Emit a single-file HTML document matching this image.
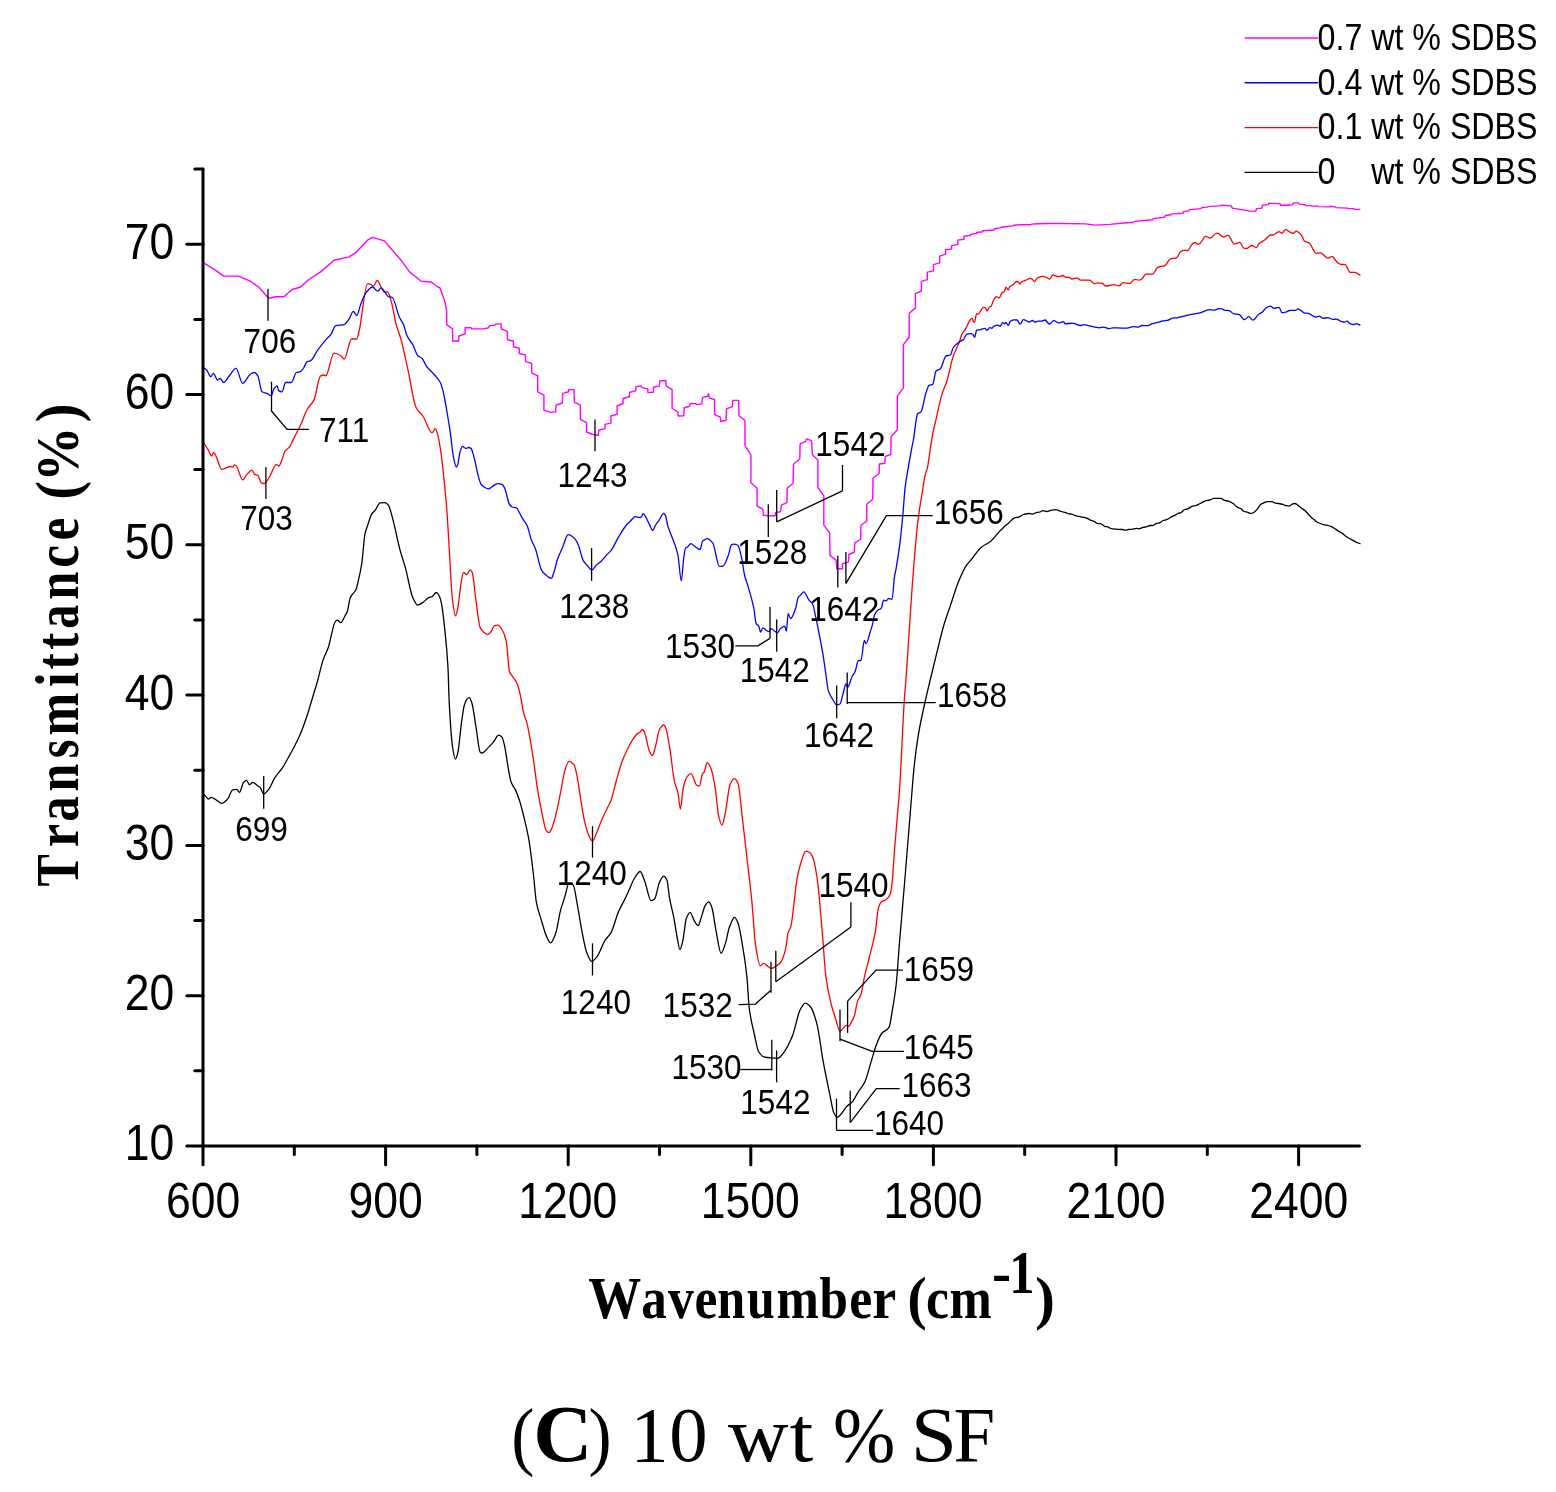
<!DOCTYPE html>
<html><head><meta charset="utf-8"><title>FTIR spectra (C) 10 wt % SF</title>
<style>html,body{margin:0;padding:0;background:#fff;}svg{display:block;}</style></head>
<body><svg width="1556" height="1492" viewBox="0 0 1556 1492">
<rect width="1556" height="1492" fill="#fff"/>
<path d="M203.40,794.00 C204.23,794.87 205.07,795.75 205.90,796.60 C206.73,797.45 207.57,799.10 208.40,799.10 C209.23,799.10 210.07,797.40 210.90,797.40 C211.73,797.40 212.57,797.85 213.40,798.20 C214.53,798.68 215.67,799.70 216.80,800.40 C218.47,801.42 220.13,803.30 221.80,803.30 C223.73,803.30 225.67,801.12 227.60,799.10 C229.30,797.33 231.00,790.27 232.70,789.90 C234.10,789.60 235.50,789.40 236.90,789.40 C237.73,789.40 238.57,792.40 239.40,792.40 C240.80,792.40 242.20,783.72 243.60,782.30 C244.60,781.29 245.60,780.30 246.60,780.30 C247.53,780.30 248.47,784.80 249.40,784.80 C250.53,784.80 251.67,782.30 252.80,782.30 C254.20,782.30 255.60,784.29 257.00,785.30 C258.10,786.09 259.20,786.55 260.30,787.70 C261.43,788.88 262.57,794.00 263.70,794.00 C265.63,794.00 267.57,790.79 269.50,788.20 C271.20,785.92 272.90,780.83 274.60,778.10 C277.37,773.66 280.13,771.46 282.90,767.20 C284.30,765.05 285.70,762.20 287.10,759.70 C288.50,757.20 289.90,754.83 291.30,752.20 C294.37,746.44 297.43,740.88 300.50,733.70 C302.73,728.47 304.97,722.02 307.20,715.30 C308.90,710.19 310.60,704.14 312.30,698.50 C313.97,692.97 315.63,687.69 317.30,681.80 C319.27,674.85 321.23,665.27 323.20,659.60 C324.87,654.80 326.53,652.47 328.20,647.80 C330.70,640.79 333.20,622.79 335.70,621.00 C336.27,620.59 336.83,620.20 337.40,620.20 C338.53,620.20 339.67,622.70 340.80,622.70 C342.17,622.70 343.53,618.43 344.90,616.00 C345.77,614.46 346.63,613.42 347.50,611.00 C348.33,608.67 349.17,600.50 350.00,598.40 C350.83,596.30 351.67,595.41 352.50,594.20 C353.60,592.60 354.70,592.13 355.80,590.00 C356.63,588.39 357.47,584.29 358.30,580.80 C359.43,576.05 360.57,571.28 361.70,564.00 C362.80,556.94 363.90,539.05 365.00,533.90 C365.87,529.84 366.73,528.11 367.60,525.50 C369.00,521.29 370.40,515.87 371.80,513.80 C372.90,512.18 374.00,511.73 375.10,510.40 C376.77,508.39 378.43,503.09 380.10,502.90 C381.80,502.71 383.50,502.60 385.20,502.60 C386.30,502.60 387.40,503.96 388.50,505.40 C389.90,507.23 391.30,513.77 392.70,518.80 C395.20,527.78 397.70,541.40 400.20,550.60 C401.90,556.85 403.60,561.28 405.30,567.40 C407.80,576.40 410.30,592.30 412.80,597.60 C414.47,601.14 416.13,605.10 417.80,605.10 C419.77,605.10 421.73,603.13 423.70,601.80 C425.37,600.67 427.03,598.25 428.70,597.60 C429.83,597.16 430.97,597.16 432.10,596.70 C433.50,596.13 434.90,592.50 436.30,592.50 C437.13,592.50 437.97,593.75 438.80,595.00 C439.63,596.25 440.47,599.05 441.30,602.60 C442.40,607.29 443.50,617.53 444.60,627.70 C445.73,638.18 446.87,647.66 448.00,667.90 C448.40,675.04 448.80,694.22 449.20,701.90 C450.33,723.66 451.47,739.83 452.60,747.10 C453.53,753.09 454.47,759.20 455.40,759.20 C456.13,759.20 456.87,756.41 457.60,753.80 C459.00,748.82 460.40,729.81 461.80,720.30 C462.63,714.64 463.47,707.99 464.30,705.20 C465.13,702.41 465.97,700.28 466.80,699.40 C467.63,698.52 468.47,697.70 469.30,697.70 C470.13,697.70 470.97,700.32 471.80,702.70 C473.20,706.70 474.60,718.75 476.00,727.00 C477.40,735.25 478.80,751.11 480.20,752.20 C480.77,752.64 481.33,753.00 481.90,753.00 C484.13,753.00 486.37,749.26 488.60,747.10 C490.27,745.49 491.93,743.77 493.60,741.80 C495.27,739.83 496.93,735.10 498.60,735.10 C499.73,735.10 500.87,735.92 502.00,737.10 C502.83,737.97 503.67,742.00 504.50,745.50 C505.90,751.38 507.30,763.33 508.70,770.60 C509.53,774.93 510.37,780.04 511.20,782.30 C512.60,786.10 514.00,786.91 515.40,789.90 C516.80,792.89 518.20,796.49 519.60,800.80 C521.00,805.11 522.40,810.95 523.80,816.70 C525.47,823.55 527.13,829.83 528.80,839.30 C530.37,848.20 531.93,861.60 533.50,875.00 C534.43,882.98 535.37,896.68 536.30,901.80 C538.00,911.12 539.70,914.45 541.40,920.20 C543.07,925.83 544.73,932.59 546.40,936.10 C547.80,939.05 549.20,942.80 550.60,942.80 C552.27,942.80 553.93,938.00 555.60,933.60 C557.27,929.20 558.93,916.49 560.60,910.20 C562.00,904.92 563.40,901.27 564.80,896.80 C566.20,892.33 567.60,883.40 569.00,883.40 C570.40,883.40 571.80,884.01 573.20,885.00 C574.60,885.99 576.00,897.83 577.40,905.10 C579.07,913.75 580.73,925.35 582.40,933.60 C583.80,940.53 585.20,948.42 586.60,952.10 C588.27,956.48 589.93,961.30 591.60,961.30 C593.30,961.30 595.00,959.03 596.70,957.10 C599.47,953.97 602.23,944.57 605.00,940.30 C606.97,937.27 608.93,936.17 610.90,932.80 C613.43,928.46 615.97,917.68 618.50,911.80 C621.00,906.00 623.50,902.13 626.00,896.80 C626.83,895.02 627.67,893.02 628.50,891.20 C630.73,886.32 632.97,880.19 635.20,877.00 C636.87,874.62 638.53,871.50 640.20,871.50 C641.73,871.50 643.27,877.64 644.80,881.50 C646.90,886.78 649.00,900.70 651.10,900.70 C652.23,900.70 653.37,899.94 654.50,899.00 C656.17,897.62 657.83,885.67 659.50,882.30 C660.90,879.47 662.30,876.10 663.70,876.10 C664.80,876.10 665.90,877.87 667.00,880.30 C667.87,882.22 668.73,893.58 669.60,898.40 C670.97,906.00 672.33,909.88 673.70,916.90 C674.83,922.72 675.97,931.26 677.10,937.00 C678.03,941.73 678.97,949.50 679.90,949.50 C680.90,949.50 681.90,944.42 682.90,940.30 C684.03,935.63 685.17,921.48 686.30,918.50 C687.57,915.17 688.83,912.30 690.10,912.30 C691.47,912.30 692.83,918.43 694.20,920.60 C695.50,922.66 696.80,925.70 698.10,925.70 C699.33,925.70 700.57,919.15 701.80,915.60 C702.90,912.44 704.00,907.27 705.10,905.60 C706.33,903.73 707.57,901.90 708.80,901.90 C709.80,901.90 710.80,904.59 711.80,907.20 C713.20,910.85 714.60,923.75 716.00,930.70 C717.70,939.14 719.40,953.30 721.10,953.30 C722.47,953.30 723.83,948.02 725.20,944.10 C726.60,940.08 728.00,931.03 729.40,927.30 C731.10,922.78 732.80,917.30 734.50,917.30 C735.60,917.30 736.70,919.82 737.80,922.30 C739.20,925.46 740.60,934.47 742.00,942.40 C743.67,951.84 745.33,961.25 747.00,977.60 C747.70,984.47 748.40,1001.32 749.10,1007.00 C750.87,1021.32 752.63,1026.50 754.40,1034.50 C755.80,1040.84 757.20,1049.20 758.60,1051.50 C760.37,1054.40 762.13,1056.32 763.90,1056.80 C766.37,1057.47 768.83,1057.69 771.30,1057.90 C773.43,1058.09 775.57,1058.30 777.70,1058.30 C779.47,1058.30 781.23,1055.66 783.00,1053.60 C786.20,1049.88 789.40,1043.47 792.60,1035.60 C795.07,1029.53 797.53,1014.70 800.00,1010.10 C801.77,1006.81 803.53,1003.10 805.30,1003.10 C807.07,1003.10 808.83,1004.99 810.60,1007.00 C812.70,1009.39 814.80,1016.13 816.90,1023.90 C819.03,1031.79 821.17,1050.53 823.30,1062.10 C825.43,1073.67 827.57,1083.80 829.70,1093.90 C831.10,1100.53 832.50,1110.17 833.90,1113.00 C834.97,1115.16 836.03,1117.30 837.10,1117.30 C838.17,1117.30 839.23,1116.04 840.30,1115.10 C842.40,1113.25 844.50,1108.68 846.60,1106.60 C848.37,1104.85 850.13,1104.27 851.90,1102.40 C854.03,1100.14 856.17,1095.14 858.30,1091.80 C860.43,1088.46 862.57,1086.63 864.70,1082.30 C866.80,1078.03 868.90,1068.83 871.00,1062.10 C872.77,1056.43 874.53,1049.70 876.30,1045.10 C878.07,1040.50 879.83,1035.73 881.60,1033.50 C884.10,1030.35 886.60,1031.16 889.10,1027.10 C890.13,1025.42 891.17,1017.18 892.20,1011.20 C893.53,1003.48 894.87,996.14 896.20,984.30 C897.30,974.53 898.40,955.84 899.50,942.40 C901.17,922.03 902.83,903.80 904.50,883.80 C906.77,856.60 909.03,827.56 911.30,800.00 C912.10,790.27 912.90,778.92 913.70,771.10 C915.10,757.41 916.50,746.37 917.90,737.60 C920.13,723.60 922.37,714.30 924.60,704.00 C926.47,695.39 928.33,687.83 930.20,680.00 C932.13,671.89 934.07,664.01 936.00,656.20 C938.53,645.96 941.07,634.64 943.60,626.00 C945.83,618.39 948.07,612.52 950.30,605.90 C953.07,597.70 955.83,588.34 958.60,581.60 C961.13,575.43 963.67,569.45 966.20,565.70 C967.60,563.63 969.00,562.39 970.40,560.70 C974.03,556.32 977.67,550.34 981.30,547.30 C984.37,544.74 987.43,543.89 990.50,541.40 C993.67,538.83 996.83,534.20 1000.00,530.90 C1001.17,529.68 1002.33,528.48 1003.50,527.40 C1005.23,525.80 1006.97,524.48 1008.70,523.00 C1010.80,521.21 1012.90,518.10 1015.00,517.60 C1016.37,517.27 1017.73,517.32 1019.10,517.00 C1020.43,516.69 1021.77,515.09 1023.10,514.70 C1025.23,514.07 1027.37,513.50 1029.50,513.50 C1030.47,513.50 1031.43,514.10 1032.40,514.10 C1033.93,514.10 1035.47,512.60 1037.00,512.40 C1037.77,512.30 1038.53,512.31 1039.30,512.20 C1040.47,512.04 1041.63,510.70 1042.80,510.70 C1044.17,510.70 1045.53,511.50 1046.90,511.50 C1048.23,511.50 1049.57,510.66 1050.90,510.40 C1052.43,510.10 1053.97,509.70 1055.50,509.70 C1056.27,509.70 1057.03,509.92 1057.80,510.10 C1058.97,510.38 1060.13,511.15 1061.30,511.50 C1062.83,511.96 1064.37,512.11 1065.90,512.60 C1066.87,512.91 1067.83,513.78 1068.80,513.90 C1069.77,514.02 1070.73,513.99 1071.70,514.10 C1072.67,514.21 1073.63,515.00 1074.60,515.30 C1076.73,515.96 1078.87,516.29 1081.00,516.80 C1082.93,517.26 1084.87,517.56 1086.80,518.20 C1088.33,518.71 1089.87,519.99 1091.40,520.50 C1092.17,520.75 1092.93,520.82 1093.70,521.10 C1094.87,521.52 1096.03,523.22 1097.20,523.40 C1098.33,523.58 1099.47,523.53 1100.60,523.70 C1101.97,523.91 1103.33,525.94 1104.70,526.30 C1105.87,526.61 1107.03,526.57 1108.20,526.90 C1108.97,527.12 1109.73,528.19 1110.50,528.40 C1112.23,528.87 1113.97,529.08 1115.70,529.20 C1118.00,529.36 1120.30,529.32 1122.60,529.50 C1123.57,529.58 1124.53,530.10 1125.50,530.10 C1126.47,530.10 1127.43,529.59 1128.40,529.50 C1129.57,529.39 1130.73,529.40 1131.90,529.30 C1133.43,529.17 1134.97,528.40 1136.50,528.40 C1137.27,528.40 1138.03,528.80 1138.80,528.80 C1140.17,528.80 1141.53,527.74 1142.90,527.40 C1144.23,527.06 1145.57,526.93 1146.90,526.60 C1148.07,526.31 1149.23,525.50 1150.40,525.50 C1151.17,525.50 1151.93,525.50 1152.70,525.50 C1153.87,525.50 1155.03,523.98 1156.20,523.60 C1157.33,523.23 1158.47,523.19 1159.60,522.80 C1160.77,522.40 1161.93,520.93 1163.10,520.50 C1164.27,520.07 1165.43,520.00 1166.60,519.60 C1168.53,518.94 1170.47,517.34 1172.40,516.40 C1173.53,515.85 1174.67,515.46 1175.80,514.90 C1177.03,514.29 1178.27,512.80 1179.50,512.80 C1179.67,512.80 1179.83,513.10 1180.00,513.10 C1181.60,513.10 1183.20,510.00 1184.80,509.50 C1185.77,509.20 1186.73,509.19 1187.70,508.90 C1189.10,508.48 1190.50,506.85 1191.90,506.40 C1193.10,506.02 1194.30,505.95 1195.50,505.60 C1197.07,505.14 1198.63,504.24 1200.20,503.50 C1202.00,502.65 1203.80,501.30 1205.60,500.80 C1206.97,500.42 1208.33,500.35 1209.70,500.00 C1211.10,499.64 1212.50,498.40 1213.90,498.40 C1216.27,498.40 1218.63,498.40 1221.00,498.40 C1222.00,498.40 1223.00,499.85 1224.00,500.20 C1225.40,500.69 1226.80,500.76 1228.20,501.20 C1229.97,501.76 1231.73,502.65 1233.50,503.80 C1234.70,504.58 1235.90,506.43 1237.10,507.10 C1238.27,507.75 1239.43,507.87 1240.60,508.50 C1241.80,509.15 1243.00,511.08 1244.20,511.50 C1245.40,511.92 1246.60,511.95 1247.80,512.30 C1248.77,512.58 1249.73,513.50 1250.70,513.50 C1251.90,513.50 1253.10,512.78 1254.30,512.10 C1255.30,511.53 1256.30,510.24 1257.30,509.10 C1258.47,507.77 1259.63,505.23 1260.80,504.40 C1261.60,503.83 1262.40,503.55 1263.20,503.20 C1264.60,502.59 1266.00,501.60 1267.40,501.60 C1268.97,501.60 1270.53,501.60 1272.10,501.60 C1272.90,501.60 1273.70,502.71 1274.50,502.90 C1275.90,503.23 1277.30,503.26 1278.70,503.50 C1280.07,503.74 1281.43,504.01 1282.80,504.40 C1283.80,504.69 1284.80,505.33 1285.80,505.60 C1286.80,505.87 1287.80,506.20 1288.80,506.20 C1290.00,506.20 1291.20,504.52 1292.40,504.10 C1293.17,503.83 1293.93,503.50 1294.70,503.50 C1295.90,503.50 1297.10,504.80 1298.30,505.60 C1299.30,506.27 1300.30,507.13 1301.30,507.90 C1302.67,508.96 1304.03,509.88 1305.40,511.10 C1306.40,512.00 1307.40,513.13 1308.40,514.20 C1309.40,515.27 1310.40,516.58 1311.40,517.50 C1312.37,518.39 1313.33,519.03 1314.30,519.80 C1315.30,520.60 1316.30,521.66 1317.30,522.20 C1319.10,523.17 1320.90,523.74 1322.70,524.30 C1325.47,525.16 1328.23,525.37 1331.00,526.40 C1332.20,526.85 1333.40,527.74 1334.60,528.50 C1335.77,529.24 1336.93,530.18 1338.10,530.90 C1339.30,531.64 1340.50,532.11 1341.70,532.90 C1343.27,533.93 1344.83,535.77 1346.40,536.80 C1348.00,537.85 1349.60,538.52 1351.20,539.40 C1352.80,540.28 1354.40,541.38 1356.00,542.10 C1357.50,542.78 1359.00,543.23 1360.50,543.80" fill="none" stroke="#000" stroke-width="1.3" stroke-linejoin="round"/>
<path d="M203.40,442.60 C205.07,445.10 206.73,447.36 208.40,450.10 C209.50,451.91 210.60,456.00 211.70,456.00 C212.27,456.00 212.83,452.60 213.40,452.60 C213.97,452.60 214.53,453.57 215.10,454.30 C217.33,457.17 219.57,469.40 221.80,469.40 C223.47,469.40 225.13,468.28 226.80,467.70 C227.93,467.31 229.07,466.50 230.20,466.50 C231.03,466.50 231.87,467.20 232.70,467.20 C233.27,467.20 233.83,464.90 234.40,464.90 C234.93,464.90 235.47,465.20 236.00,465.50 C238.23,466.75 240.47,479.90 242.70,479.90 C244.10,479.90 245.50,475.84 246.90,474.40 C248.57,472.68 250.23,470.20 251.90,470.20 C252.77,470.20 253.63,474.02 254.50,474.40 C255.60,474.88 256.70,474.72 257.80,475.20 C258.93,475.69 260.07,482.31 261.20,482.80 C262.30,483.28 263.40,483.60 264.50,483.60 C265.07,483.60 265.63,482.57 266.20,481.90 C267.60,480.23 269.00,477.61 270.40,475.20 C272.33,471.88 274.27,464.30 276.20,464.30 C277.07,464.30 277.93,466.00 278.80,466.00 C279.90,466.00 281.00,461.99 282.10,459.30 C282.93,457.26 283.77,453.12 284.60,451.80 C286.27,449.15 287.93,449.04 289.60,446.80 C291.00,444.92 292.40,441.18 293.80,438.40 C294.93,436.15 296.07,433.92 297.20,431.70 C298.30,429.55 299.40,427.63 300.50,425.30 C302.73,420.58 304.97,413.19 307.20,409.30 C309.43,405.41 311.67,404.55 313.90,400.10 C316.13,395.65 318.37,376.70 320.60,375.80 C321.73,375.34 322.87,375.00 324.00,375.00 C324.57,375.00 325.13,375.80 325.70,375.80 C328.47,375.80 331.23,353.20 334.00,353.20 C336.27,353.20 338.53,354.40 340.80,355.70 C341.90,356.33 343.00,359.10 344.10,359.10 C346.60,359.10 349.10,339.00 351.60,339.00 C353.30,339.00 355.00,339.00 356.70,339.00 C357.53,339.00 358.37,333.95 359.20,330.60 C362.00,319.36 364.80,283.70 367.60,283.70 C368.70,283.70 369.80,284.10 370.90,284.50 C371.73,284.80 372.57,286.20 373.40,286.20 C374.70,286.20 376.00,280.30 377.30,280.30 C378.53,280.30 379.77,284.97 381.00,287.00 C382.10,288.81 383.20,292.00 384.30,292.00 C385.43,292.00 386.57,292.00 387.70,292.00 C388.80,292.00 389.90,296.84 391.00,300.40 C392.67,305.79 394.33,317.65 396.00,323.90 C397.70,330.28 399.40,333.66 401.10,339.80 C403.33,347.87 405.57,359.10 407.80,369.10 C410.60,381.64 413.40,402.35 416.20,407.70 C418.43,411.97 420.67,412.74 422.90,416.00 C425.97,420.48 429.03,432.80 432.10,432.80 C433.20,432.80 434.30,428.60 435.40,428.60 C436.23,428.60 437.07,432.30 437.90,435.30 C439.03,439.38 440.17,447.02 441.30,455.10 C442.40,462.94 443.50,474.08 444.60,485.30 C445.43,493.80 446.27,502.49 447.10,513.80 C447.73,522.39 448.37,534.86 449.00,545.00 C450.20,564.21 451.40,591.53 452.60,600.90 C453.53,608.19 454.47,615.90 455.40,615.90 C456.13,615.90 456.87,612.30 457.60,609.20 C458.70,604.55 459.80,590.26 460.90,584.10 C461.77,579.25 462.63,572.40 463.50,572.40 C464.50,572.40 465.50,574.60 466.50,574.60 C467.73,574.60 468.97,569.90 470.20,569.90 C470.87,569.90 471.53,571.07 472.20,572.40 C473.47,574.93 474.73,592.15 476.00,600.90 C477.40,610.57 478.80,625.36 480.20,627.70 C482.73,631.93 485.27,634.40 487.80,634.40 C488.63,634.40 489.47,633.48 490.30,632.70 C491.70,631.39 493.10,626.08 494.50,625.70 C495.60,625.40 496.70,625.20 497.80,625.20 C499.47,625.20 501.13,628.14 502.80,631.00 C503.93,632.95 505.07,635.99 506.20,641.10 C507.30,646.06 508.40,668.76 509.50,671.70 C510.37,674.02 511.23,674.54 512.10,675.90 C513.77,678.52 515.43,679.87 517.10,683.50 C517.93,685.31 518.77,688.49 519.60,691.80 C521.00,697.37 522.40,708.26 523.80,713.60 C524.90,717.79 526.00,719.44 527.10,723.70 C527.67,725.90 528.23,729.07 528.80,732.10 C530.47,741.00 532.13,751.07 533.80,762.20 C534.93,769.77 536.07,780.18 537.20,787.30 C538.87,797.78 540.53,806.61 542.20,814.20 C543.60,820.57 545.00,829.37 546.40,830.90 C547.23,831.81 548.07,832.60 548.90,832.60 C549.73,832.60 550.57,830.74 551.40,829.20 C552.80,826.62 554.20,821.08 555.60,815.80 C557.27,809.51 558.93,800.62 560.60,792.40 C562.00,785.50 563.40,774.91 564.80,770.60 C566.20,766.29 567.60,761.40 569.00,761.40 C570.67,761.40 572.33,762.70 574.00,764.70 C574.87,765.74 575.73,770.06 576.60,773.90 C577.70,778.77 578.80,787.35 579.90,794.00 C581.30,802.47 582.70,812.91 584.10,819.20 C585.50,825.49 586.90,831.21 588.30,834.30 C589.70,837.39 591.10,841.00 592.50,841.00 C593.90,841.00 595.30,835.71 596.70,832.60 C598.37,828.90 600.03,823.85 601.70,820.00 C603.67,815.46 605.63,811.57 607.60,807.50 C608.70,805.22 609.80,803.63 610.90,800.80 C612.57,796.52 614.23,788.22 615.90,782.30 C617.87,775.32 619.83,767.56 621.80,762.20 C623.77,756.84 625.73,752.79 627.70,748.80 C629.37,745.42 631.03,742.07 632.70,739.60 C634.37,737.13 636.03,734.57 637.70,733.40 C638.53,732.82 639.37,732.71 640.20,732.10 C640.93,731.57 641.67,729.50 642.40,729.50 C643.07,729.50 643.73,730.90 644.40,732.10 C646.10,735.17 647.80,747.96 649.50,751.30 C650.50,753.26 651.50,755.50 652.50,755.50 C653.43,755.50 654.37,750.33 655.30,747.10 C656.70,742.26 658.10,731.89 659.50,729.50 C660.90,727.11 662.30,725.00 663.70,725.00 C664.27,725.00 664.83,726.01 665.40,727.00 C666.80,729.44 668.20,739.17 669.60,747.10 C671.27,756.54 672.93,775.38 674.60,782.30 C675.70,786.87 676.80,787.70 677.90,792.40 C678.73,795.96 679.57,809.10 680.40,809.10 C681.33,809.10 682.27,791.91 683.20,788.00 C684.63,782.00 686.07,777.73 687.50,776.10 C688.63,774.81 689.77,773.60 690.90,773.60 C692.87,773.60 694.83,784.20 696.80,785.30 C697.63,785.76 698.47,786.20 699.30,786.20 C700.40,786.20 701.50,775.24 702.60,773.60 C703.17,772.75 703.73,772.73 704.30,771.90 C705.23,770.53 706.17,762.70 707.10,762.70 C708.40,762.70 709.70,765.66 711.00,768.60 C712.40,771.76 713.80,779.46 715.20,787.80 C716.30,794.35 717.40,810.32 718.50,815.10 C719.63,820.03 720.77,825.10 721.90,825.10 C723.00,825.10 724.10,818.17 725.20,813.40 C726.90,806.03 728.60,786.89 730.30,783.60 C731.70,780.89 733.10,778.60 734.50,778.60 C735.60,778.60 736.70,780.51 737.80,782.80 C739.47,786.28 741.13,808.02 742.80,821.80 C744.20,833.37 745.60,846.25 747.00,858.60 C748.70,873.59 750.40,886.24 752.10,903.90 C753.20,915.33 754.30,936.80 755.40,944.10 C757.07,955.16 758.73,965.90 760.40,965.90 C761.53,965.90 762.67,963.40 763.80,963.40 C764.90,963.40 766.00,965.16 767.10,965.90 C768.50,966.84 769.90,968.40 771.30,968.40 C772.97,968.40 774.63,966.94 776.30,965.90 C777.70,965.03 779.10,964.20 780.50,962.50 C782.20,960.43 783.90,955.85 785.60,949.10 C786.43,945.79 787.27,935.00 788.10,932.40 C788.93,929.80 789.77,929.76 790.60,927.30 C792.83,920.71 795.07,888.48 797.30,877.10 C798.40,871.50 799.50,867.14 800.60,863.70 C802.30,858.39 804.00,851.10 805.70,851.10 C807.10,851.10 808.50,851.86 809.90,852.80 C811.00,853.54 812.10,855.77 813.20,858.60 C814.60,862.21 816.00,870.71 817.40,880.40 C819.07,891.94 820.73,914.81 822.40,934.00 C823.53,947.05 824.67,967.22 825.80,975.90 C827.47,988.67 829.13,995.82 830.80,1002.70 C832.47,1009.58 834.13,1014.44 835.80,1019.50 C837.20,1023.75 838.60,1031.20 840.00,1031.20 C841.13,1031.20 842.27,1029.02 843.40,1027.90 C844.23,1027.08 845.07,1025.40 845.90,1025.40 C847.00,1025.40 848.10,1026.20 849.20,1026.20 C849.77,1026.20 850.33,1024.01 850.90,1022.90 C852.03,1020.69 853.17,1019.33 854.30,1016.20 C855.40,1013.16 856.50,1004.14 857.60,1001.10 C858.73,997.97 859.87,997.63 861.00,994.40 C862.10,991.27 863.20,982.58 864.30,977.60 C865.97,970.05 867.63,964.38 869.30,957.50 C871.27,949.38 873.23,943.30 875.20,932.40 C876.33,926.12 877.47,910.41 878.60,907.20 C879.70,904.08 880.80,902.14 881.90,901.40 C883.30,900.46 884.70,900.58 886.10,899.70 C887.50,898.82 888.90,897.28 890.30,893.80 C890.87,892.39 891.43,888.32 892.00,883.80 C892.83,877.15 893.67,860.89 894.50,850.30 C895.33,839.71 896.17,830.15 897.00,820.10 C897.83,810.05 898.67,801.89 899.50,790.00 C901.17,766.23 902.83,721.12 904.50,697.30 C904.97,690.63 905.43,686.21 905.90,680.00 C907.00,665.35 908.10,647.39 909.20,631.10 C910.33,614.32 911.47,595.27 912.60,580.80 C914.53,556.11 916.47,532.40 918.40,517.10 C919.53,508.13 920.67,502.38 921.80,495.30 C922.90,488.43 924.00,479.86 925.10,475.20 C925.93,471.67 926.77,470.60 927.60,466.90 C928.47,463.05 929.33,454.75 930.20,449.30 C931.30,442.38 932.40,435.31 933.50,430.00 C934.33,425.98 935.17,423.11 936.00,419.60 C937.97,411.33 939.93,400.84 941.90,394.40 C943.57,388.95 945.23,386.30 946.90,381.00 C948.87,374.74 950.83,363.60 952.80,357.60 C955.20,350.28 957.60,347.16 960.00,340.00 C960.43,338.71 960.87,336.48 961.30,335.50 C962.63,332.48 963.97,331.52 965.30,329.40 C967.47,325.95 969.63,318.50 971.80,318.50 C972.67,318.50 973.53,322.40 974.40,322.40 C975.13,322.40 975.87,313.70 976.60,313.70 C977.03,313.70 977.47,314.10 977.90,314.10 C979.80,314.10 981.70,307.40 983.60,307.40 C984.30,307.40 985.00,307.62 985.70,308.00 C986.13,308.23 986.57,310.90 987.00,310.90 C987.90,310.90 988.80,306.60 989.70,306.60 C990.13,306.60 990.57,306.60 991.00,306.60 C991.70,306.60 992.40,302.41 993.10,301.10 C994.13,299.16 995.17,296.70 996.20,296.70 C997.20,296.70 998.20,297.80 999.20,297.80 C1000.23,297.80 1001.27,293.06 1002.30,292.40 C1003.03,291.93 1003.77,292.07 1004.50,291.50 C1004.93,291.16 1005.37,287.10 1005.80,287.10 C1006.67,287.10 1007.53,290.00 1008.40,290.00 C1008.83,290.00 1009.27,287.16 1009.70,286.70 C1010.70,285.64 1011.70,285.60 1012.70,284.90 C1014.03,283.97 1015.37,281.50 1016.70,281.50 C1017.27,281.50 1017.83,281.66 1018.40,281.90 C1018.83,282.09 1019.27,284.20 1019.70,284.20 C1020.30,284.20 1020.90,282.29 1021.50,281.90 C1022.93,280.97 1024.37,280.75 1025.80,280.20 C1027.40,279.58 1029.00,278.40 1030.60,278.40 C1031.20,278.40 1031.80,278.89 1032.40,279.30 C1033.10,279.78 1033.80,281.60 1034.50,281.60 C1035.37,281.60 1036.23,278.46 1037.10,278.00 C1038.87,277.06 1040.63,276.40 1042.40,276.40 C1043.83,276.40 1045.27,277.01 1046.70,277.50 C1047.73,277.85 1048.77,279.00 1049.80,279.00 C1050.80,279.00 1051.80,274.90 1052.80,274.90 C1054.57,274.90 1056.33,276.70 1058.10,276.70 C1059.83,276.70 1061.57,275.50 1063.30,275.50 C1063.87,275.50 1064.43,277.01 1065.00,277.10 C1066.27,277.31 1067.53,277.22 1068.80,277.40 C1069.87,277.55 1070.93,279.00 1072.00,279.00 C1073.73,279.00 1075.47,277.90 1077.20,277.90 C1078.30,277.90 1079.40,280.20 1080.50,280.20 C1083.47,280.20 1086.43,280.20 1089.40,280.20 C1090.17,280.20 1090.93,281.08 1091.70,281.60 C1092.67,282.25 1093.63,283.80 1094.60,283.80 C1095.53,283.80 1096.47,282.80 1097.40,282.80 C1099.10,282.80 1100.80,282.97 1102.50,283.30 C1103.43,283.48 1104.37,286.10 1105.30,286.10 C1106.57,286.10 1107.83,285.80 1109.10,285.60 C1110.67,285.35 1112.23,284.60 1113.80,284.60 C1115.53,284.60 1117.27,285.90 1119.00,285.90 C1120.40,285.90 1121.80,282.60 1123.20,282.60 C1125.37,282.60 1127.53,283.50 1129.70,283.50 C1131.43,283.50 1133.17,279.30 1134.90,279.30 C1136.30,279.30 1137.70,280.20 1139.10,280.20 C1140.03,280.20 1140.97,279.59 1141.90,279.00 C1143.17,278.21 1144.43,274.10 1145.70,274.10 C1148.03,274.10 1150.37,274.10 1152.70,274.10 C1154.27,274.10 1155.83,268.47 1157.40,267.60 C1158.50,266.99 1159.60,266.66 1160.70,266.40 C1162.10,266.08 1163.50,266.10 1164.90,265.70 C1166.63,265.20 1168.37,259.75 1170.10,259.10 C1172.30,258.28 1174.50,258.63 1176.70,257.70 C1177.63,257.31 1178.57,254.40 1179.50,253.00 C1179.67,252.75 1179.83,252.45 1180.00,252.30 C1181.17,251.24 1182.33,250.30 1183.50,250.30 C1184.83,250.30 1186.17,250.50 1187.50,250.50 C1189.37,250.50 1191.23,243.93 1193.10,243.10 C1193.77,242.80 1194.43,242.50 1195.10,242.50 C1196.10,242.50 1197.10,244.30 1198.10,244.30 C1198.93,244.30 1199.77,243.45 1200.60,242.80 C1202.27,241.49 1203.93,236.40 1205.60,236.40 C1207.13,236.40 1208.67,238.20 1210.20,238.20 C1212.20,238.20 1214.20,233.40 1216.20,233.40 C1216.87,233.40 1217.53,233.40 1218.20,233.40 C1219.87,233.40 1221.53,237.20 1223.20,237.20 C1224.87,237.20 1226.53,235.40 1228.20,235.40 C1230.23,235.40 1232.27,244.10 1234.30,244.10 C1236.13,244.10 1237.97,242.30 1239.80,242.30 C1241.13,242.30 1242.47,247.94 1243.80,248.10 C1244.80,248.22 1245.80,248.30 1246.80,248.30 C1248.33,248.30 1249.87,245.50 1251.40,245.50 C1253.07,245.50 1254.73,247.50 1256.40,247.50 C1257.23,247.50 1258.07,244.62 1258.90,243.80 C1261.07,241.67 1263.23,241.05 1265.40,239.40 C1267.10,238.10 1268.80,235.00 1270.50,235.00 C1271.33,235.00 1272.17,235.00 1273.00,235.00 C1275.00,235.00 1277.00,231.70 1279.00,231.70 C1280.00,231.70 1281.00,233.40 1282.00,233.40 C1283.17,233.40 1284.33,229.40 1285.50,229.40 C1286.83,229.40 1288.17,231.19 1289.50,231.80 C1289.67,231.88 1289.83,231.93 1290.00,232.00 C1291.00,232.42 1292.00,233.40 1293.00,233.40 C1294.17,233.40 1295.33,231.20 1296.50,231.20 C1297.17,231.20 1297.83,231.76 1298.50,232.20 C1299.70,233.00 1300.90,234.34 1302.10,236.20 C1302.77,237.23 1303.43,240.24 1304.10,240.80 C1305.93,242.35 1307.77,241.90 1309.60,243.30 C1310.43,243.93 1311.27,246.01 1312.10,247.30 C1313.43,249.37 1314.77,253.30 1316.10,253.30 C1317.47,253.30 1318.83,252.80 1320.20,252.80 C1321.03,252.80 1321.87,253.54 1322.70,254.10 C1323.53,254.66 1324.37,255.92 1325.20,256.50 C1326.20,257.19 1327.20,258.10 1328.20,258.10 C1329.53,258.10 1330.87,256.30 1332.20,256.30 C1332.87,256.30 1333.53,257.55 1334.20,258.30 C1335.20,259.42 1336.20,261.36 1337.20,262.20 C1338.40,263.21 1339.60,264.30 1340.80,264.40 C1342.30,264.53 1343.80,264.46 1345.30,264.60 C1346.13,264.68 1346.97,267.61 1347.80,268.90 C1348.63,270.19 1349.47,272.40 1350.30,272.40 C1351.80,272.40 1353.30,272.40 1354.80,272.40 C1356.67,272.40 1358.53,274.53 1360.40,275.60" fill="none" stroke="#ff0000" stroke-width="1.3" stroke-linejoin="round"/>
<path d="M203.40,367.50 C204.50,368.33 205.60,368.89 206.70,370.00 C208.10,371.42 209.50,376.70 210.90,376.70 C211.73,376.70 212.57,373.30 213.40,373.30 C214.80,373.30 216.20,380.00 217.60,380.00 C218.43,380.00 219.27,378.30 220.10,378.30 C221.23,378.30 222.37,382.50 223.50,382.50 C225.43,382.50 227.37,378.00 229.30,375.80 C231.53,373.26 233.77,368.30 236.00,368.30 C238.23,368.30 240.47,383.40 242.70,383.40 C245.23,383.40 247.77,375.67 250.30,374.20 C251.70,373.39 253.10,372.50 254.50,372.50 C255.60,372.50 256.70,374.10 257.80,375.80 C259.20,377.97 260.60,390.95 262.00,391.80 C263.67,392.81 265.33,392.70 267.00,393.40 C268.40,393.99 269.80,395.90 271.20,395.90 C272.03,395.90 272.87,390.42 273.70,389.20 C274.83,387.55 275.97,385.90 277.10,385.90 C277.67,385.90 278.23,390.59 278.80,390.90 C279.90,391.50 281.00,391.80 282.10,391.80 C283.23,391.80 284.37,382.50 285.50,382.50 C287.43,382.50 289.37,382.50 291.30,382.50 C292.97,382.50 294.63,373.13 296.30,372.50 C297.70,371.97 299.10,372.12 300.50,371.60 C301.63,371.18 302.77,369.13 303.90,367.50 C305.00,365.91 306.10,362.06 307.20,361.60 C308.33,361.13 309.47,361.23 310.60,360.80 C312.83,359.96 315.07,353.78 317.30,350.70 C320.63,346.10 323.97,341.68 327.30,338.10 C328.43,336.88 329.57,336.21 330.70,334.80 C332.37,332.72 334.03,325.96 335.70,325.60 C338.50,324.99 341.30,325.29 344.10,324.70 C345.77,324.35 347.43,321.27 349.10,318.90 C350.50,316.91 351.90,311.30 353.30,311.30 C354.43,311.30 355.57,315.50 356.70,315.50 C358.10,315.50 359.50,307.24 360.90,303.80 C362.57,299.71 364.23,295.03 365.90,292.90 C368.13,290.04 370.37,287.00 372.60,287.00 C374.27,287.00 375.93,291.20 377.60,291.20 C378.73,291.20 379.87,287.90 381.00,287.90 C383.77,287.90 386.53,297.10 389.30,297.10 C390.17,297.10 391.03,297.10 391.90,297.10 C394.40,297.10 396.90,311.94 399.40,317.20 C400.80,320.15 402.20,321.42 403.60,324.70 C404.70,327.28 405.80,333.19 406.90,335.60 C408.87,339.91 410.83,341.21 412.80,344.80 C414.47,347.84 416.13,354.17 417.80,355.70 C419.20,356.99 420.60,356.95 422.00,358.20 C423.40,359.45 424.80,363.84 426.20,365.80 C429.00,369.73 431.80,371.63 434.60,375.00 C436.50,377.28 438.40,378.78 440.30,382.50 C441.33,384.52 442.37,388.43 443.40,392.60 C444.77,398.11 446.13,407.03 447.50,415.00 C448.37,420.05 449.23,425.15 450.10,431.10 C451.20,438.65 452.30,451.59 453.40,456.80 C454.40,461.54 455.40,467.10 456.40,467.10 C456.80,467.10 457.20,466.06 457.60,465.10 C458.43,463.10 459.27,454.23 460.10,451.70 C460.93,449.17 461.77,446.40 462.60,446.40 C463.73,446.40 464.87,448.40 466.00,448.40 C466.83,448.40 467.67,447.50 468.50,447.50 C469.33,447.50 470.17,447.87 471.00,448.40 C471.83,448.93 472.67,452.41 473.50,455.10 C475.17,460.49 476.83,471.23 478.50,476.90 C479.37,479.85 480.23,483.21 481.10,484.40 C482.20,485.91 483.30,486.71 484.40,487.30 C485.80,488.06 487.20,488.90 488.60,488.90 C490.27,488.90 491.93,486.52 493.60,485.60 C495.00,484.83 496.40,483.60 497.80,483.60 C499.20,483.60 500.60,483.90 502.00,484.40 C502.83,484.70 503.67,486.26 504.50,487.80 C506.17,490.88 507.83,502.15 509.50,504.50 C510.37,505.72 511.23,506.67 512.10,507.00 C513.47,507.51 514.83,507.39 516.20,507.90 C518.17,508.63 520.13,514.75 522.10,517.90 C523.77,520.57 525.43,521.97 527.10,525.50 C528.50,528.47 529.90,535.98 531.30,539.70 C532.70,543.42 534.10,545.15 535.50,548.90 C537.47,554.16 539.43,566.44 541.40,569.90 C542.50,571.84 543.60,573.05 544.70,574.00 C546.93,575.93 549.17,578.20 551.40,578.20 C552.23,578.20 553.07,574.75 553.90,572.40 C555.03,569.20 556.17,563.10 557.30,559.80 C558.97,554.95 560.63,551.94 562.30,548.10 C564.27,543.56 566.23,534.70 568.20,534.70 C570.43,534.70 572.67,536.72 574.90,538.90 C576.00,539.97 577.10,542.28 578.20,544.70 C579.90,548.45 581.60,557.67 583.30,560.60 C584.70,563.01 586.10,564.14 587.50,565.70 C588.87,567.22 590.23,569.90 591.60,569.90 C593.30,569.90 595.00,566.29 596.70,564.80 C598.10,563.57 599.50,562.78 600.90,561.50 C603.13,559.46 605.37,556.26 607.60,553.90 C608.70,552.74 609.80,551.95 610.90,550.60 C613.43,547.48 615.97,541.39 618.50,537.20 C621.00,533.06 623.50,528.49 626.00,525.50 C627.40,523.83 628.80,522.64 630.20,521.30 C631.87,519.70 633.53,516.70 635.20,516.70 C636.60,516.70 638.00,517.40 639.40,517.40 C639.97,517.40 640.53,517.28 641.10,517.10 C641.77,516.89 642.43,513.70 643.10,513.70 C643.83,513.70 644.57,515.17 645.30,516.20 C646.70,518.17 648.10,521.96 649.50,524.60 C650.60,526.67 651.70,530.50 652.80,530.50 C653.63,530.50 654.47,526.90 655.30,525.50 C656.70,523.15 658.10,521.62 659.50,519.60 C660.90,517.58 662.30,513.40 663.70,513.40 C664.27,513.40 664.83,514.39 665.40,515.40 C666.23,516.89 667.07,523.53 667.90,526.30 C668.73,529.07 669.57,530.69 670.40,533.00 C672.90,539.93 675.40,543.64 677.90,554.80 C679.03,559.86 680.17,580.80 681.30,580.80 C682.13,580.80 682.97,562.93 683.80,557.30 C684.37,553.47 684.93,548.68 685.50,548.10 C686.17,547.42 686.83,547.46 687.50,547.00 C688.63,546.22 689.77,543.60 690.90,543.60 C691.73,543.60 692.57,544.71 693.40,545.30 C694.53,546.10 695.67,547.11 696.80,547.80 C697.90,548.47 699.00,549.50 700.10,549.50 C700.93,549.50 701.77,542.00 702.60,541.10 C703.43,540.20 704.27,539.98 705.10,539.50 C705.67,539.17 706.23,538.60 706.80,538.60 C708.77,538.60 710.73,540.50 712.70,542.80 C714.93,545.41 717.17,566.30 719.40,566.30 C720.50,566.30 721.60,566.30 722.70,566.30 C724.67,566.30 726.63,559.81 728.60,554.50 C729.43,552.25 730.27,546.01 731.10,545.30 C731.93,544.59 732.77,544.10 733.60,544.10 C735.00,544.10 736.40,544.56 737.80,545.30 C739.20,546.04 740.60,553.24 742.00,559.60 C742.77,563.08 743.53,570.59 744.30,574.00 C745.77,580.52 747.23,583.21 748.70,588.40 C750.37,594.29 752.03,599.47 753.70,607.70 C754.53,611.82 755.37,622.20 756.20,623.60 C757.07,625.05 757.93,624.71 758.80,626.10 C759.33,626.95 759.87,632.00 760.40,632.00 C761.23,632.00 762.07,627.80 762.90,627.80 C764.03,627.80 765.17,629.58 766.30,630.30 C767.13,630.83 767.97,631.70 768.80,631.70 C769.63,631.70 770.47,628.60 771.30,628.60 C772.43,628.60 773.57,630.41 774.70,631.20 C775.53,631.78 776.37,632.80 777.20,632.80 C778.30,632.80 779.40,629.51 780.50,628.60 C781.90,627.45 783.30,626.10 784.70,626.10 C785.27,626.10 785.83,631.20 786.40,631.20 C786.97,631.20 787.53,613.60 788.10,613.60 C788.93,613.60 789.77,618.60 790.60,618.60 C792.27,618.60 793.93,613.30 795.60,608.50 C796.43,606.10 797.27,598.96 798.10,597.60 C798.93,596.24 799.77,595.96 800.60,595.10 C801.63,594.04 802.67,591.80 803.70,591.80 C805.47,591.80 807.23,598.11 809.00,600.20 C810.13,601.54 811.27,601.72 812.40,603.50 C813.50,605.23 814.60,612.00 815.70,616.90 C816.83,621.95 817.97,627.87 819.10,633.70 C820.50,640.90 821.90,647.66 823.30,656.30 C824.13,661.44 824.97,668.19 825.80,673.90 C826.63,679.61 827.47,687.91 828.30,690.60 C829.70,695.12 831.10,696.69 832.50,699.00 C833.90,701.31 835.30,704.90 836.70,704.90 C837.80,704.90 838.90,704.55 840.00,704.00 C841.13,703.43 842.27,696.15 843.40,692.30 C844.23,689.47 845.07,683.90 845.90,683.90 C846.47,683.90 847.03,687.30 847.60,687.30 C849.00,687.30 850.40,680.03 851.80,677.20 C852.90,674.98 854.00,673.89 855.10,671.40 C856.23,668.83 857.37,660.50 858.50,660.50 C859.33,660.50 860.17,660.50 861.00,660.50 C862.10,660.50 863.20,640.40 864.30,640.40 C864.87,640.40 865.43,643.70 866.00,643.70 C867.40,643.70 868.80,636.30 870.20,632.00 C871.03,629.44 871.87,626.97 872.70,623.60 C873.27,621.31 873.83,616.59 874.40,615.20 C875.50,612.50 876.60,611.03 877.70,610.20 C878.83,609.35 879.97,609.52 881.10,608.50 C881.93,607.75 882.77,600.20 883.60,600.20 C884.43,600.20 885.27,601.00 886.10,601.00 C886.93,601.00 887.77,598.50 888.60,598.50 C889.73,598.50 890.87,599.30 892.00,599.30 C892.83,599.30 893.67,582.09 894.50,576.70 C895.07,573.03 895.63,571.16 896.20,567.90 C897.47,560.61 898.73,552.43 900.00,542.30 C900.97,534.57 901.93,524.80 902.90,514.30 C903.60,506.70 904.30,494.62 905.00,488.60 C906.13,478.85 907.27,473.66 908.40,466.90 C909.50,460.34 910.60,454.14 911.70,448.40 C912.27,445.44 912.83,443.08 913.40,440.00 C914.80,432.39 916.20,414.99 917.60,413.70 C918.70,412.69 919.80,412.95 920.90,412.00 C922.60,410.54 924.30,397.44 926.00,392.70 C927.10,389.63 928.20,385.67 929.30,385.20 C930.43,384.71 931.57,384.91 932.70,384.40 C933.80,383.91 934.90,371.97 936.00,371.00 C937.40,369.77 938.80,370.06 940.20,369.00 C942.17,367.51 944.13,356.63 946.10,355.90 C947.50,355.38 948.90,355.58 950.30,355.00 C951.30,354.59 952.30,348.93 953.30,347.50 C955.07,344.97 956.83,343.78 958.60,342.50 C960.00,341.49 961.40,340.00 962.80,340.00 C962.90,340.00 963.00,340.00 963.10,340.00 C964.27,340.00 965.43,334.48 966.60,334.20 C968.20,333.81 969.80,333.60 971.40,333.60 C971.83,333.60 972.27,333.91 972.70,334.20 C973.40,334.67 974.10,337.20 974.80,337.20 C975.40,337.20 976.00,330.23 976.60,330.10 C977.60,329.89 978.60,329.94 979.60,329.80 C981.37,329.55 983.13,328.30 984.90,328.30 C985.60,328.30 986.30,330.30 987.00,330.30 C987.90,330.30 988.80,327.60 989.70,327.60 C990.40,327.60 991.10,328.30 991.80,328.30 C992.40,328.30 993.00,326.57 993.60,326.30 C995.03,325.65 996.47,325.20 997.90,325.20 C998.63,325.20 999.37,326.30 1000.10,326.30 C1000.97,326.30 1001.83,322.60 1002.70,322.60 C1003.30,322.60 1003.90,323.70 1004.50,323.70 C1004.93,323.70 1005.37,322.40 1005.80,322.40 C1006.67,322.40 1007.53,325.50 1008.40,325.50 C1008.97,325.50 1009.53,321.99 1010.10,321.50 C1011.27,320.48 1012.43,319.80 1013.60,319.80 C1014.77,319.80 1015.93,319.87 1017.10,320.00 C1018.13,320.12 1019.17,324.20 1020.20,324.20 C1021.20,324.20 1022.20,319.60 1023.20,319.60 C1025.23,319.60 1027.27,322.00 1029.30,322.00 C1030.33,322.00 1031.37,320.50 1032.40,320.50 C1033.27,320.50 1034.13,322.00 1035.00,322.00 C1036.00,322.00 1037.00,321.10 1038.00,321.10 C1039.17,321.10 1040.33,321.10 1041.50,321.10 C1042.67,321.10 1043.83,320.00 1045.00,320.00 C1046.43,320.00 1047.87,324.00 1049.30,324.00 C1050.77,324.00 1052.23,320.70 1053.70,320.70 C1055.43,320.70 1057.17,322.90 1058.90,322.90 C1060.37,322.90 1061.83,321.70 1063.30,321.70 C1063.60,321.70 1063.90,322.07 1064.20,322.40 C1064.47,322.70 1064.73,323.90 1065.00,323.90 C1067.50,323.90 1070.00,323.10 1072.50,323.10 C1075.17,323.10 1077.83,325.50 1080.50,325.50 C1081.60,325.50 1082.70,324.60 1083.80,324.60 C1085.67,324.60 1087.53,325.48 1089.40,325.90 C1091.27,326.32 1093.13,326.77 1095.00,327.10 C1096.57,327.37 1098.13,327.80 1099.70,327.80 C1100.97,327.80 1102.23,327.10 1103.50,327.10 C1105.37,327.10 1107.23,328.70 1109.10,328.70 C1110.37,328.70 1111.63,327.80 1112.90,327.80 C1115.70,327.80 1118.50,328.10 1121.30,328.10 C1123.17,328.10 1125.03,328.10 1126.90,328.10 C1129.10,328.10 1131.30,326.70 1133.50,326.70 C1135.07,326.70 1136.63,327.10 1138.20,327.10 C1139.43,327.10 1140.67,325.50 1141.90,325.50 C1143.80,325.50 1145.70,325.70 1147.60,325.70 C1149.17,325.70 1150.73,324.18 1152.30,323.70 C1154.47,323.04 1156.63,322.83 1158.80,322.20 C1160.07,321.83 1161.33,321.01 1162.60,320.80 C1164.17,320.54 1165.73,320.55 1167.30,320.30 C1169.47,319.95 1171.63,317.80 1173.80,317.80 C1174.77,317.80 1175.73,318.00 1176.70,318.00 C1177.63,318.00 1178.57,317.00 1179.50,317.00 C1179.67,317.00 1179.83,317.10 1180.00,317.10 C1182.67,317.10 1185.33,315.68 1188.00,315.10 C1192.03,314.22 1196.07,313.81 1200.10,312.80 C1203.10,312.05 1206.10,309.60 1209.10,309.60 C1210.80,309.60 1212.50,310.10 1214.20,310.10 C1215.87,310.10 1217.53,308.60 1219.20,308.60 C1220.20,308.60 1221.20,308.67 1222.20,308.80 C1222.87,308.89 1223.53,309.97 1224.20,310.10 C1225.87,310.42 1227.53,310.30 1229.20,310.60 C1230.57,310.85 1231.93,313.21 1233.30,313.60 C1235.30,314.17 1237.30,314.02 1239.30,314.60 C1240.97,315.09 1242.63,319.60 1244.30,319.60 C1245.80,319.60 1247.30,316.60 1248.80,316.60 C1250.17,316.60 1251.53,320.20 1252.90,320.20 C1254.73,320.20 1256.57,316.00 1258.40,314.60 C1259.73,313.58 1261.07,313.17 1262.40,312.10 C1263.73,311.03 1265.07,308.34 1266.40,307.60 C1267.77,306.84 1269.13,306.10 1270.50,306.10 C1271.67,306.10 1272.83,308.40 1274.00,308.40 C1275.67,308.40 1277.33,307.40 1279.00,307.40 C1280.00,307.40 1281.00,312.80 1282.00,312.80 C1283.50,312.80 1285.00,312.25 1286.50,311.80 C1287.50,311.50 1288.50,310.75 1289.50,310.50 C1289.67,310.46 1289.83,310.40 1290.00,310.40 C1291.83,310.40 1293.67,310.40 1295.50,310.40 C1296.33,310.40 1297.17,308.80 1298.00,308.80 C1300.03,308.80 1302.07,312.36 1304.10,312.80 C1305.60,313.12 1307.10,313.07 1308.60,313.40 C1310.10,313.73 1311.60,315.47 1313.10,316.10 C1314.10,316.52 1315.10,317.10 1316.10,317.10 C1317.10,317.10 1318.10,316.10 1319.10,316.10 C1320.47,316.10 1321.83,318.40 1323.20,318.40 C1324.70,318.40 1326.20,317.60 1327.70,317.60 C1329.53,317.60 1331.37,319.40 1333.20,319.40 C1334.20,319.40 1335.20,319.10 1336.20,319.10 C1337.90,319.10 1339.60,320.98 1341.30,321.50 C1342.30,321.80 1343.30,322.20 1344.30,322.20 C1345.13,322.20 1345.97,321.20 1346.80,321.20 C1347.97,321.20 1349.13,323.25 1350.30,323.70 C1351.30,324.08 1352.30,324.50 1353.30,324.50 C1354.30,324.50 1355.30,323.70 1356.30,323.70 C1357.67,323.70 1359.03,324.70 1360.40,325.20" fill="none" stroke="#0000ff" stroke-width="1.3" stroke-linejoin="round"/>
<polyline points="203.4,262.7 210.1,266.9 216.8,271.1 223.5,276.1 238.5,276.1 250.3,281.2 258.6,287.0 268.7,298.3 275.4,296.7 283.8,296.7 292.2,289.5 300.5,287.0 308.9,279.5 320.6,271.9 334.0,260.2 349.1,256.9 355.8,252.7 367.6,240.1 372.6,237.3 384.3,240.9 401.1,260.2 409.5,271.9 421.2,281.2 431.2,282.0 437.9,287.0 440.0,287.9 445.0,302.1 446.7,311.3 446.7,324.7 452.6,328.9 452.6,341.0 458.8,341.0 458.8,336.0 465.1,333.9 465.1,327.7 471.0,327.7 471.8,328.9 483.6,328.9 488.6,327.7 489.4,325.9 495.3,325.1 496.1,323.9 501.2,323.9 501.2,328.9 507.4,331.4 507.4,339.8 513.4,341.0 513.4,346.8 519.3,348.2 519.3,353.5 525.5,354.9 525.5,361.3 531.7,363.3 531.7,372.8 537.7,375.8 537.7,391.8 543.9,395.1 543.9,410.2 550.6,412.4 555.6,411.9 556.0,405.2 562.3,403.0 562.7,393.4 568.7,391.8 568.7,389.6 574.0,389.6 574.4,402.3 580.4,405.2 580.4,419.4 586.6,422.7 586.6,432.0 592.8,434.5 598.3,435.3 598.8,430.3 605.0,428.6 605.0,424.4 610.9,423.1 610.9,416.0 617.1,414.4 617.1,406.0 623.1,403.5 623.1,398.5 629.3,396.8 629.7,392.3 635.7,390.9 636.0,386.7 641.1,385.9 641.9,387.6 647.8,388.9 647.8,392.6 653.3,392.3 653.6,387.2 659.5,385.9 659.8,380.9 665.9,380.5 666.2,385.9 672.1,389.6 672.1,408.5 677.9,411.9 678.3,416.0 683.8,415.7 684.1,407.7 689.6,406.2 690.1,403.4 695.9,403.7 696.8,404.6 701.8,403.7 702.6,397.4 707.6,396.2 708.5,393.7 709.3,397.9 714.4,399.5 714.7,414.6 720.2,417.1 720.7,421.3 726.1,420.5 726.4,408.8 732.3,406.7 732.8,400.4 738.6,400.4 739.0,415.8 745.0,420.5 745.0,445.6 750.9,454.8 750.9,482.8 757.1,488.3 757.1,505.9 762.9,509.3 763.4,515.2 768.8,515.7 775.5,515.7 775.5,512.6 780.5,511.8 781.4,505.1 786.9,502.6 787.2,488.3 793.1,483.3 793.6,464.0 799.8,459.0 800.1,443.9 805.7,441.4 806.5,438.9 811.5,440.6 812.4,454.8 817.9,459.9 817.9,487.5 823.8,495.9 823.8,525.2 829.6,532.8 830.0,555.4 836.2,560.4 836.7,568.8 842.5,568.8 842.5,563.7 848.4,562.1 848.9,554.5 854.3,552.0 854.8,542.8 860.6,539.5 861.0,525.2 866.8,521.0 866.8,504.3 872.7,499.2 873.0,478.3 879.1,473.3 879.4,464.0 884.8,463.2 885.3,456.5 890.8,454.3 891.1,436.4 897.3,429.7 897.3,396.2 903.4,387.8 903.4,344.6 909.2,337.3 909.2,313.2 915.4,308.1 915.4,293.6 921.4,291.0 921.4,281.3 927.3,279.6 927.3,272.1 933.5,270.9 933.5,264.6 939.7,262.9 939.7,256.2 945.6,254.2 945.6,249.5 950.0,249.4 951.6,248.8 951.6,245.6 957.8,244.4 957.8,240.1 963.9,239.2 963.9,236.3 970.5,235.4 970.5,234.4 976.6,233.5 976.6,232.5 982.7,231.8 982.7,230.7 994.0,230.0 994.4,228.7 1000.5,227.9 1001.0,227.3 1012.7,225.9 1013.6,225.3 1019.7,224.8 1030.2,224.8 1031.9,224.1 1037.1,223.7 1049.3,223.5 1063.3,223.4 1065.0,223.5 1085.6,223.9 1095.0,225.1 1110.0,224.4 1121.3,223.3 1133.5,222.2 1134.4,221.4 1146.6,220.2 1152.7,219.7 1153.2,218.6 1164.5,217.2 1165.4,215.5 1171.0,214.8 1171.5,213.9 1179.5,213.4 1180.0,213.6 1183.0,213.3 1183.5,211.6 1189.0,210.9 1189.5,209.6 1201.1,208.6 1201.6,207.6 1207.6,207.1 1208.1,206.6 1219.2,205.9 1222.2,205.3 1231.3,205.9 1232.3,208.1 1244.3,210.1 1250.4,211.1 1255.9,211.1 1256.4,208.6 1261.9,208.1 1262.4,205.3 1268.4,204.6 1268.9,203.3 1280.0,203.6 1280.5,205.3 1285.5,205.3 1289.5,205.0 1290.0,205.1 1292.5,204.6 1293.5,202.9 1298.5,202.9 1299.5,204.1 1304.6,204.6 1305.6,205.6 1311.1,205.6 1312.1,206.1 1317.1,206.1 1318.6,206.6 1329.2,206.9 1330.2,206.3 1335.2,206.9 1336.2,207.6 1347.3,208.1 1348.3,208.6 1353.3,208.6 1354.8,209.4 1360.4,209.4" fill="none" stroke="#ff00ff" stroke-width="1.4" stroke-linejoin="round" stroke-linecap="butt"/>
<line x1="268.0" y1="288.7" x2="268.0" y2="320.7" stroke="#000" stroke-width="1.3"/>
<line x1="271.5" y1="381.7" x2="271.5" y2="411.9" stroke="#000" stroke-width="1.3"/>
<polyline points="271.5,411.0 287.1,429.4 308.9,429.4" fill="none" stroke="#000" stroke-width="1.3"/>
<line x1="265.9" y1="466.9" x2="265.9" y2="499.0" stroke="#000" stroke-width="1.3"/>
<line x1="263.7" y1="776.0" x2="263.7" y2="808.8" stroke="#000" stroke-width="1.3"/>
<line x1="595.0" y1="419.4" x2="595.0" y2="451.2" stroke="#000" stroke-width="1.3"/>
<line x1="591.6" y1="548.1" x2="591.6" y2="580.8" stroke="#000" stroke-width="1.3"/>
<line x1="592.5" y1="826.2" x2="592.5" y2="857.7" stroke="#000" stroke-width="1.3"/>
<line x1="592.5" y1="943.3" x2="592.5" y2="975.5" stroke="#000" stroke-width="1.3"/>
<line x1="768.3" y1="504.3" x2="768.3" y2="536.9" stroke="#000" stroke-width="1.3"/>
<line x1="776.7" y1="490.0" x2="776.7" y2="521.9" stroke="#000" stroke-width="1.3"/>
<polyline points="776.7,521.9 842.5,490.9" fill="none" stroke="#000" stroke-width="1.3"/>
<line x1="842.5" y1="464.9" x2="842.5" y2="490.9" stroke="#000" stroke-width="1.3"/>
<line x1="837.8" y1="555.4" x2="837.8" y2="587.6" stroke="#000" stroke-width="1.3"/>
<line x1="845.9" y1="552.0" x2="845.9" y2="583.4" stroke="#000" stroke-width="1.3"/>
<polyline points="845.9,583.4 886.4,515.7 932.7,515.7" fill="none" stroke="#000" stroke-width="1.3"/>
<line x1="770.0" y1="606.9" x2="770.0" y2="638.4" stroke="#000" stroke-width="1.3"/>
<polyline points="770.0,638.4 757.9,645.9 735.3,645.9" fill="none" stroke="#000" stroke-width="1.3"/>
<line x1="776.7" y1="619.4" x2="776.7" y2="651.8" stroke="#000" stroke-width="1.3"/>
<line x1="836.7" y1="685.6" x2="836.7" y2="718.3" stroke="#000" stroke-width="1.3"/>
<line x1="847.2" y1="672.5" x2="847.2" y2="704.0" stroke="#000" stroke-width="1.3"/>
<polyline points="847.2,702.6 935.7,702.6" fill="none" stroke="#000" stroke-width="1.3"/>
<line x1="775.8" y1="950.8" x2="775.8" y2="981.8" stroke="#000" stroke-width="1.3"/>
<polyline points="775.8,981.8 850.9,927.0" fill="none" stroke="#000" stroke-width="1.3"/>
<line x1="850.9" y1="902.2" x2="850.9" y2="927.0" stroke="#000" stroke-width="1.3"/>
<line x1="771.0" y1="961.7" x2="771.0" y2="992.7" stroke="#000" stroke-width="1.3"/>
<polyline points="771.0,990.2 755.4,1004.1 738.6,1004.6" fill="none" stroke="#000" stroke-width="1.3"/>
<line x1="840.0" y1="1009.5" x2="840.0" y2="1041.3" stroke="#000" stroke-width="1.3"/>
<polyline points="840.0,1039.2 872.1,1051.3 903.9,1051.3" fill="none" stroke="#000" stroke-width="1.3"/>
<line x1="847.6" y1="1001.1" x2="847.6" y2="1032.9" stroke="#000" stroke-width="1.3"/>
<polyline points="847.6,1001.1 876.0,970.1 902.9,970.1" fill="none" stroke="#000" stroke-width="1.3"/>
<line x1="771.8" y1="1039.8" x2="771.8" y2="1070.6" stroke="#000" stroke-width="1.3"/>
<polyline points="771.8,1069.5 740.2,1069.5" fill="none" stroke="#000" stroke-width="1.3"/>
<line x1="776.6" y1="1050.4" x2="776.6" y2="1082.3" stroke="#000" stroke-width="1.3"/>
<line x1="850.2" y1="1090.7" x2="850.2" y2="1122.6" stroke="#000" stroke-width="1.3"/>
<polyline points="850.2,1122.6 876.3,1088.6 899.7,1088.6" fill="none" stroke="#000" stroke-width="1.3"/>
<line x1="836.5" y1="1098.6" x2="836.5" y2="1130.4" stroke="#000" stroke-width="1.3"/>
<polyline points="836.5,1130.4 873.1,1130.4" fill="none" stroke="#000" stroke-width="1.3"/>
<text x="243.62" y="352.85" font-size="35.30" font-weight="normal" font-family='"Liberation Sans", Arial, sans-serif' textLength="52.60" lengthAdjust="spacingAndGlyphs" >706</text>
<text x="319.02" y="442.00" font-size="35.30" font-weight="normal" font-family='"Liberation Sans", Arial, sans-serif' textLength="50.26" lengthAdjust="spacingAndGlyphs" >711</text>
<text x="240.32" y="530.15" font-size="35.30" font-weight="normal" font-family='"Liberation Sans", Arial, sans-serif' textLength="52.60" lengthAdjust="spacingAndGlyphs" >703</text>
<text x="235.32" y="840.65" font-size="35.30" font-weight="normal" font-family='"Liberation Sans", Arial, sans-serif' textLength="52.60" lengthAdjust="spacingAndGlyphs" >699</text>
<text x="557.44" y="486.55" font-size="35.30" font-weight="normal" font-family='"Liberation Sans", Arial, sans-serif' textLength="70.13" lengthAdjust="spacingAndGlyphs" >1243</text>
<text x="559.14" y="618.15" font-size="35.30" font-weight="normal" font-family='"Liberation Sans", Arial, sans-serif' textLength="70.13" lengthAdjust="spacingAndGlyphs" >1238</text>
<text x="556.64" y="885.05" font-size="35.30" font-weight="normal" font-family='"Liberation Sans", Arial, sans-serif' textLength="70.13" lengthAdjust="spacingAndGlyphs" >1240</text>
<text x="560.84" y="1013.65" font-size="35.30" font-weight="normal" font-family='"Liberation Sans", Arial, sans-serif' textLength="70.13" lengthAdjust="spacingAndGlyphs" >1240</text>
<text x="737.14" y="564.25" font-size="35.30" font-weight="normal" font-family='"Liberation Sans", Arial, sans-serif' textLength="70.13" lengthAdjust="spacingAndGlyphs" >1528</text>
<text x="815.34" y="456.15" font-size="35.30" font-weight="normal" font-family='"Liberation Sans", Arial, sans-serif' textLength="70.13" lengthAdjust="spacingAndGlyphs" >1542</text>
<text x="809.14" y="621.25" font-size="35.30" font-weight="normal" font-family='"Liberation Sans", Arial, sans-serif' textLength="70.13" lengthAdjust="spacingAndGlyphs" >1642</text>
<text x="933.64" y="524.35" font-size="35.30" font-weight="normal" font-family='"Liberation Sans", Arial, sans-serif' textLength="70.13" lengthAdjust="spacingAndGlyphs" >1656</text>
<text x="664.92" y="658.25" font-size="35.30" font-weight="normal" font-family='"Liberation Sans", Arial, sans-serif' textLength="70.13" lengthAdjust="spacingAndGlyphs" >1530</text>
<text x="739.64" y="681.55" font-size="35.30" font-weight="normal" font-family='"Liberation Sans", Arial, sans-serif' textLength="70.13" lengthAdjust="spacingAndGlyphs" >1542</text>
<text x="803.94" y="747.35" font-size="35.30" font-weight="normal" font-family='"Liberation Sans", Arial, sans-serif' textLength="70.13" lengthAdjust="spacingAndGlyphs" >1642</text>
<text x="937.04" y="706.65" font-size="35.30" font-weight="normal" font-family='"Liberation Sans", Arial, sans-serif' textLength="70.13" lengthAdjust="spacingAndGlyphs" >1658</text>
<text x="818.44" y="896.55" font-size="35.30" font-weight="normal" font-family='"Liberation Sans", Arial, sans-serif' textLength="70.13" lengthAdjust="spacingAndGlyphs" >1540</text>
<text x="662.62" y="1016.65" font-size="35.30" font-weight="normal" font-family='"Liberation Sans", Arial, sans-serif' textLength="70.13" lengthAdjust="spacingAndGlyphs" >1532</text>
<text x="903.84" y="981.45" font-size="35.30" font-weight="normal" font-family='"Liberation Sans", Arial, sans-serif' textLength="70.13" lengthAdjust="spacingAndGlyphs" >1659</text>
<text x="903.64" y="1058.55" font-size="35.30" font-weight="normal" font-family='"Liberation Sans", Arial, sans-serif' textLength="70.13" lengthAdjust="spacingAndGlyphs" >1645</text>
<text x="671.44" y="1078.75" font-size="35.30" font-weight="normal" font-family='"Liberation Sans", Arial, sans-serif' textLength="70.13" lengthAdjust="spacingAndGlyphs" >1530</text>
<text x="740.34" y="1113.75" font-size="35.30" font-weight="normal" font-family='"Liberation Sans", Arial, sans-serif' textLength="70.13" lengthAdjust="spacingAndGlyphs" >1542</text>
<text x="901.54" y="1096.75" font-size="35.30" font-weight="normal" font-family='"Liberation Sans", Arial, sans-serif' textLength="70.13" lengthAdjust="spacingAndGlyphs" >1663</text>
<text x="873.94" y="1134.95" font-size="35.30" font-weight="normal" font-family='"Liberation Sans", Arial, sans-serif' textLength="70.13" lengthAdjust="spacingAndGlyphs" >1640</text>
<line x1="203.0" y1="169.1" x2="203.0" y2="1146.0" stroke="#000" stroke-width="3" stroke-linecap="round"/>
<line x1="203.0" y1="1146.0" x2="1359.5" y2="1146.0" stroke="#000" stroke-width="3" stroke-linecap="round"/>
<line x1="186.8" y1="1146.0" x2="203.0" y2="1146.0" stroke="#000" stroke-width="3" stroke-linecap="round"/>
<line x1="194.8" y1="1070.8" x2="203.0" y2="1070.8" stroke="#000" stroke-width="3" stroke-linecap="round"/>
<line x1="186.8" y1="995.7" x2="203.0" y2="995.7" stroke="#000" stroke-width="3" stroke-linecap="round"/>
<line x1="194.8" y1="920.5" x2="203.0" y2="920.5" stroke="#000" stroke-width="3" stroke-linecap="round"/>
<line x1="186.8" y1="845.4" x2="203.0" y2="845.4" stroke="#000" stroke-width="3" stroke-linecap="round"/>
<line x1="194.8" y1="770.2" x2="203.0" y2="770.2" stroke="#000" stroke-width="3" stroke-linecap="round"/>
<line x1="186.8" y1="695.1" x2="203.0" y2="695.1" stroke="#000" stroke-width="3" stroke-linecap="round"/>
<line x1="194.8" y1="620.0" x2="203.0" y2="620.0" stroke="#000" stroke-width="3" stroke-linecap="round"/>
<line x1="186.8" y1="544.8" x2="203.0" y2="544.8" stroke="#000" stroke-width="3" stroke-linecap="round"/>
<line x1="194.8" y1="469.6" x2="203.0" y2="469.6" stroke="#000" stroke-width="3" stroke-linecap="round"/>
<line x1="186.8" y1="394.5" x2="203.0" y2="394.5" stroke="#000" stroke-width="3" stroke-linecap="round"/>
<line x1="194.8" y1="319.4" x2="203.0" y2="319.4" stroke="#000" stroke-width="3" stroke-linecap="round"/>
<line x1="186.8" y1="244.2" x2="203.0" y2="244.2" stroke="#000" stroke-width="3" stroke-linecap="round"/>
<line x1="194.8" y1="169.1" x2="203.0" y2="169.1" stroke="#000" stroke-width="3" stroke-linecap="round"/>
<line x1="203.0" y1="1146.0" x2="203.0" y2="1164.8" stroke="#000" stroke-width="3" stroke-linecap="round"/>
<line x1="294.3" y1="1146.0" x2="294.3" y2="1154.6" stroke="#000" stroke-width="3" stroke-linecap="round"/>
<line x1="385.6" y1="1146.0" x2="385.6" y2="1164.8" stroke="#000" stroke-width="3" stroke-linecap="round"/>
<line x1="476.9" y1="1146.0" x2="476.9" y2="1154.6" stroke="#000" stroke-width="3" stroke-linecap="round"/>
<line x1="568.2" y1="1146.0" x2="568.2" y2="1164.8" stroke="#000" stroke-width="3" stroke-linecap="round"/>
<line x1="659.5" y1="1146.0" x2="659.5" y2="1154.6" stroke="#000" stroke-width="3" stroke-linecap="round"/>
<line x1="750.8" y1="1146.0" x2="750.8" y2="1164.8" stroke="#000" stroke-width="3" stroke-linecap="round"/>
<line x1="842.1" y1="1146.0" x2="842.1" y2="1154.6" stroke="#000" stroke-width="3" stroke-linecap="round"/>
<line x1="933.4" y1="1146.0" x2="933.4" y2="1164.8" stroke="#000" stroke-width="3" stroke-linecap="round"/>
<line x1="1024.7" y1="1146.0" x2="1024.7" y2="1154.6" stroke="#000" stroke-width="3" stroke-linecap="round"/>
<line x1="1116.0" y1="1146.0" x2="1116.0" y2="1164.8" stroke="#000" stroke-width="3" stroke-linecap="round"/>
<line x1="1207.3" y1="1146.0" x2="1207.3" y2="1154.6" stroke="#000" stroke-width="3" stroke-linecap="round"/>
<line x1="1298.6" y1="1146.0" x2="1298.6" y2="1164.8" stroke="#000" stroke-width="3" stroke-linecap="round"/>
<text x="124.87" y="1160.40" font-size="50.00" font-weight="normal" font-family='"Liberation Sans", Arial, sans-serif' textLength="49.50" lengthAdjust="spacingAndGlyphs" >10</text>
<text x="124.87" y="1010.10" font-size="50.00" font-weight="normal" font-family='"Liberation Sans", Arial, sans-serif' textLength="49.50" lengthAdjust="spacingAndGlyphs" >20</text>
<text x="124.87" y="859.80" font-size="50.00" font-weight="normal" font-family='"Liberation Sans", Arial, sans-serif' textLength="49.50" lengthAdjust="spacingAndGlyphs" >30</text>
<text x="124.87" y="709.50" font-size="50.00" font-weight="normal" font-family='"Liberation Sans", Arial, sans-serif' textLength="49.50" lengthAdjust="spacingAndGlyphs" >40</text>
<text x="124.87" y="559.20" font-size="50.00" font-weight="normal" font-family='"Liberation Sans", Arial, sans-serif' textLength="49.50" lengthAdjust="spacingAndGlyphs" >50</text>
<text x="124.87" y="408.90" font-size="50.00" font-weight="normal" font-family='"Liberation Sans", Arial, sans-serif' textLength="49.50" lengthAdjust="spacingAndGlyphs" >60</text>
<text x="124.87" y="258.60" font-size="50.00" font-weight="normal" font-family='"Liberation Sans", Arial, sans-serif' textLength="49.50" lengthAdjust="spacingAndGlyphs" >70</text>
<text x="165.92" y="1217.70" font-size="50.00" font-weight="normal" font-family='"Liberation Sans", Arial, sans-serif' textLength="74.25" lengthAdjust="spacingAndGlyphs" >600</text>
<text x="348.58" y="1217.70" font-size="50.00" font-weight="normal" font-family='"Liberation Sans", Arial, sans-serif' textLength="74.25" lengthAdjust="spacingAndGlyphs" >900</text>
<text x="518.22" y="1217.70" font-size="50.00" font-weight="normal" font-family='"Liberation Sans", Arial, sans-serif' textLength="99.00" lengthAdjust="spacingAndGlyphs" >1200</text>
<text x="700.82" y="1217.70" font-size="50.00" font-weight="normal" font-family='"Liberation Sans", Arial, sans-serif' textLength="99.00" lengthAdjust="spacingAndGlyphs" >1500</text>
<text x="883.41" y="1217.70" font-size="50.00" font-weight="normal" font-family='"Liberation Sans", Arial, sans-serif' textLength="99.00" lengthAdjust="spacingAndGlyphs" >1800</text>
<text x="1066.57" y="1217.70" font-size="50.00" font-weight="normal" font-family='"Liberation Sans", Arial, sans-serif' textLength="99.00" lengthAdjust="spacingAndGlyphs" >2100</text>
<text x="1249.17" y="1217.70" font-size="50.00" font-weight="normal" font-family='"Liberation Sans", Arial, sans-serif' textLength="99.00" lengthAdjust="spacingAndGlyphs" >2400</text>
<line x1="1244.6" y1="38.0" x2="1318.0" y2="38.0" stroke="#ff00ff" stroke-width="1.4"/>
<text x="1317.61" y="49.74" font-size="36.00" font-weight="normal" font-family='"Liberation Sans", Arial, sans-serif' textLength="219.89" lengthAdjust="spacingAndGlyphs" >0.7 wt % SDBS</text>
<line x1="1244.6" y1="82.8" x2="1318.0" y2="82.8" stroke="#0000ff" stroke-width="1.4"/>
<text x="1317.61" y="94.54" font-size="36.00" font-weight="normal" font-family='"Liberation Sans", Arial, sans-serif' textLength="219.89" lengthAdjust="spacingAndGlyphs" >0.4 wt % SDBS</text>
<line x1="1244.6" y1="127.6" x2="1318.0" y2="127.6" stroke="#ff0000" stroke-width="1.4"/>
<text x="1317.61" y="139.34" font-size="36.00" font-weight="normal" font-family='"Liberation Sans", Arial, sans-serif' textLength="219.89" lengthAdjust="spacingAndGlyphs" >0.1 wt % SDBS</text>
<line x1="1244.6" y1="172.4" x2="1318.0" y2="172.4" stroke="#000000" stroke-width="1.4"/>
<text x="1317.61" y="184.14" font-size="36.00" font-weight="normal" font-family='"Liberation Sans", Arial, sans-serif' textLength="17.89" lengthAdjust="spacingAndGlyphs" >0</text>
<text x="1371.27" y="184.14" font-size="36.0" font-family='"Liberation Sans", Arial, sans-serif' textLength="166.24" lengthAdjust="spacingAndGlyphs">wt % SDBS</text>
<text y="1318.20" font-size="59.50" font-weight="bold" font-family='"Liberation Serif", "Times New Roman", serif' ><tspan x="588.21" textLength="52.99" lengthAdjust="spacingAndGlyphs">W</tspan><tspan x="641.34" textLength="25.52" lengthAdjust="spacingAndGlyphs">a</tspan><tspan x="668.00" textLength="25.80" lengthAdjust="spacingAndGlyphs">v</tspan><tspan x="694.50" textLength="22.86" lengthAdjust="spacingAndGlyphs">e</tspan><tspan x="717.22" textLength="27.97" lengthAdjust="spacingAndGlyphs">n</tspan><tspan x="746.95" textLength="27.75" lengthAdjust="spacingAndGlyphs">u</tspan><tspan x="776.60" textLength="42.42" lengthAdjust="spacingAndGlyphs">m</tspan><tspan x="819.56" textLength="28.45" lengthAdjust="spacingAndGlyphs">b</tspan><tspan x="849.19" textLength="22.98" lengthAdjust="spacingAndGlyphs">e</tspan><tspan x="872.37" textLength="23.04" lengthAdjust="spacingAndGlyphs">r</tspan> <tspan x="907.31" textLength="19.53" lengthAdjust="spacingAndGlyphs">(</tspan><tspan x="925.99" textLength="22.94" lengthAdjust="spacingAndGlyphs">c</tspan><tspan x="949.50" textLength="42.31" lengthAdjust="spacingAndGlyphs">m</tspan></text>
<text y="1292.60" font-size="61.50" font-weight="bold" font-family='"Liberation Serif", "Times New Roman", serif' ><tspan x="992.05" textLength="19.08" lengthAdjust="spacingAndGlyphs">-</tspan><tspan x="1009.35" textLength="25.31" lengthAdjust="spacingAndGlyphs">1</tspan></text>
<text y="1318.20" font-size="59.50" font-weight="bold" font-family='"Liberation Serif", "Times New Roman", serif' ><tspan x="1034.94" textLength="20.05" lengthAdjust="spacingAndGlyphs">)</tspan></text>
<text y="0.00" font-size="60.30" font-weight="bold" font-family='"Liberation Serif", "Times New Roman", serif' transform="translate(78.0,900.0) rotate(-90)"><tspan x="13.57" textLength="32.33" lengthAdjust="spacingAndGlyphs">T</tspan><tspan x="52.66" textLength="23.26" lengthAdjust="spacingAndGlyphs">r</tspan><tspan x="78.25" textLength="25.41" lengthAdjust="spacingAndGlyphs">a</tspan><tspan x="108.62" textLength="27.86" lengthAdjust="spacingAndGlyphs">n</tspan><tspan x="141.66" textLength="18.70" lengthAdjust="spacingAndGlyphs">s</tspan><tspan x="164.18" textLength="43.05" lengthAdjust="spacingAndGlyphs">m</tspan><tspan x="212.90" textLength="14.82" lengthAdjust="spacingAndGlyphs">i</tspan><tspan x="230.57" textLength="16.28" lengthAdjust="spacingAndGlyphs">t</tspan><tspan x="250.23" textLength="17.02" lengthAdjust="spacingAndGlyphs">t</tspan><tspan x="271.23" textLength="24.09" lengthAdjust="spacingAndGlyphs">a</tspan><tspan x="300.21" textLength="28.19" lengthAdjust="spacingAndGlyphs">n</tspan><tspan x="332.21" textLength="22.71" lengthAdjust="spacingAndGlyphs">c</tspan><tspan x="359.60" textLength="22.86" lengthAdjust="spacingAndGlyphs">e</tspan> <tspan x="400.31" textLength="18.75" lengthAdjust="spacingAndGlyphs">(</tspan><tspan x="418.12" textLength="55.40" lengthAdjust="spacingAndGlyphs">%</tspan><tspan x="477.87" textLength="18.75" lengthAdjust="spacingAndGlyphs">)</tspan></text>
<text y="1460.80" font-size="77.00" font-weight="normal" font-family='"Liberation Serif", "Times New Roman", serif' ><tspan x="511.25" textLength="23.15" lengthAdjust="spacingAndGlyphs">(</tspan></text>
<text y="1461.00" font-size="80.00" font-weight="bold" font-family='"Liberation Serif", "Times New Roman", serif' ><tspan x="533.21" textLength="59.10" lengthAdjust="spacingAndGlyphs">C</tspan></text>
<text y="1460.80" font-size="77.00" font-weight="normal" font-family='"Liberation Serif", "Times New Roman", serif' ><tspan x="588.44" textLength="23.15" lengthAdjust="spacingAndGlyphs">)</tspan></text>
<text y="1460.80" font-size="79.00" font-weight="normal" font-family='"Liberation Serif", "Times New Roman", serif' ><tspan x="630.62" textLength="38.16" lengthAdjust="spacingAndGlyphs">1</tspan><tspan x="669.22" textLength="38.35" lengthAdjust="spacingAndGlyphs">0</tspan> <tspan x="728.10" textLength="60.39" lengthAdjust="spacingAndGlyphs">w</tspan><tspan x="789.64" textLength="23.82" lengthAdjust="spacingAndGlyphs">t</tspan> <tspan x="833.08" textLength="62.29" lengthAdjust="spacingAndGlyphs">%</tspan> <tspan x="910.68" textLength="46.32" lengthAdjust="spacingAndGlyphs">S</tspan><tspan x="953.45" textLength="41.56" lengthAdjust="spacingAndGlyphs">F</tspan></text>
</svg></body></html>
